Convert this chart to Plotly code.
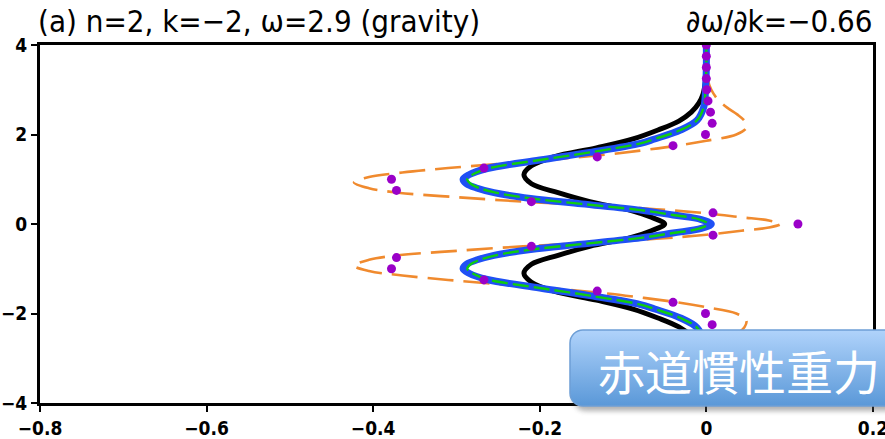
import base64
import plotly.graph_objects as go

# ---------------- data ----------------
y_black = [-4.0, -3.5, -3.2, -2.9, -2.7, -2.5, -2.3, -2.1, -1.9, -1.7, -1.5, -1.3, -1.1, -0.9, -0.7, -0.5, -0.3, -0.15,
           0.0, 0.15, 0.3, 0.5, 0.7, 0.9, 1.1, 1.3, 1.5, 1.7, 1.9, 2.1, 2.3, 2.5, 2.7, 2.9, 3.2, 3.5, 4.0]
x_black = [0.0, 0.0, -0.001, -0.004, -0.009, -0.018, -0.033, -0.058, -0.088, -0.132, -0.183, -0.21, -0.219, -0.21, -0.178, -0.14, -0.09, -0.066,
           -0.05, -0.066, -0.09, -0.14, -0.178, -0.21, -0.219, -0.21, -0.183, -0.132, -0.088, -0.058, -0.033, -0.018, -0.009, -0.004, -0.001, 0.0, 0.0]

y_blue = [-4.0, -3.5, -3.0, -2.62, -2.32, -2.1, -1.9, -1.8, -1.6, -1.43, -1.24, -1.1, -1.0, -0.9, -0.8, -0.7, -0.57, -0.45, -0.31, -0.2, -0.1,
          0.0, 0.1, 0.2, 0.31, 0.45, 0.57, 0.7, 0.8, 0.9, 1.0, 1.1, 1.24, 1.43, 1.6, 1.8, 1.9, 2.1, 2.32, 2.62, 3.0, 3.5, 4.0]
x_blue = [0.0, 0.0, -0.001, -0.003, -0.011, -0.031, -0.062, -0.079, -0.14, -0.2, -0.263, -0.285, -0.292, -0.288, -0.275, -0.255, -0.211, -0.15, -0.079, -0.04, -0.006,
          0.006, -0.006, -0.04, -0.079, -0.15, -0.211, -0.255, -0.275, -0.288, -0.292, -0.285, -0.263, -0.2, -0.14, -0.079, -0.062, -0.031, -0.011, -0.003, -0.001, 0.0, 0.0]

y_green = [-4.0, -3.5, -3.0, -2.62, -2.32, -2.1, -1.9, -1.8, -1.6, -1.43, -1.24, -1.1, -1.0, -0.9, -0.8, -0.7, -0.57, -0.45, -0.31, -0.2, -0.1,
           0.0, 0.1, 0.2, 0.31, 0.45, 0.57, 0.7, 0.8, 0.9, 1.0, 1.1, 1.24, 1.43, 1.6, 1.8, 1.9, 2.1, 2.32, 2.62, 3.0, 3.5, 4.0]
x_green = [0.0, 0.0, -0.001, -0.003, -0.011, -0.031, -0.062, -0.079, -0.14, -0.2, -0.262, -0.281, -0.287, -0.283, -0.272, -0.253, -0.21, -0.15, -0.079, -0.04, -0.008,
           0.002, -0.008, -0.04, -0.079, -0.15, -0.21, -0.253, -0.272, -0.283, -0.287, -0.281, -0.262, -0.2, -0.14, -0.079, -0.062, -0.031, -0.011, -0.003, -0.001, 0.0, 0.0]

y_orange = [-4.0, -3.5, -3.2, -3.0, -2.8, -2.6, -2.45, -2.3, -2.15, -2.0, -1.86, -1.75, -1.65, -1.55, -1.45, -1.35, -1.25, -1.15, -1.05, -0.93,
            -0.8, -0.7, -0.6, -0.5, -0.42, -0.33, -0.24, -0.15, -0.08,
            0.0, 0.08, 0.15, 0.24, 0.33, 0.42, 0.5, 0.6, 0.7, 0.8, 0.93, 1.05, 1.15, 1.25, 1.35, 1.45, 1.55, 1.65, 1.75, 1.86, 2.0, 2.15, 2.3, 2.45, 2.6, 2.8, 3.0, 3.2, 3.5, 4.0]
x_orange = [0.0, 0.0, 0.002, 0.006, 0.013, 0.025, 0.037, 0.046, 0.048, 0.036, 0.0, -0.035, -0.075, -0.12, -0.18, -0.245, -0.31, -0.365, -0.405, -0.423,
            -0.405, -0.37, -0.3, -0.22, -0.14, -0.06, 0.0, 0.042, 0.075,
            0.089, 0.075, 0.042, 0.0, -0.06, -0.14, -0.22, -0.3, -0.37, -0.405, -0.423, -0.405, -0.365, -0.31, -0.245, -0.18, -0.12, -0.075, -0.035, 0.0, 0.036, 0.048, 0.046, 0.037, 0.025, 0.013, 0.006, 0.002, 0.0, 0.0]

y_dots = [-4.0, -3.75, -3.5, -3.25, -3.0, -2.75, -2.5, -2.25, -2.0, -1.75, -1.5, -1.25, -1.0, -0.75, -0.5, -0.25,
          0.0, 0.25, 0.5, 0.75, 1.0, 1.25, 1.5, 1.75, 2.0, 2.25, 2.5, 2.75, 3.0, 3.25, 3.5, 3.75, 4.0]
x_dots = [0.0, 0.0, 0.0, 0.0, 0.0005, 0.002, 0.005, 0.007, -0.001, -0.04, -0.131, -0.267, -0.378, -0.372, -0.21, 0.008,
          0.11, 0.008, -0.21, -0.372, -0.378, -0.267, -0.131, -0.04, -0.001, 0.007, 0.005, 0.002, 0.0005, 0.0, 0.0, 0.0, 0.0]

x_tickvals = [-0.8, -0.6, -0.4, -0.2, 0.0, 0.2]
x_ticktext = ["\u22120.8", "\u22120.6", "\u22120.4", "\u22120.2", "0", "0.2"]
y_tickvals = [-4, -2, 0, 2, 4]
y_ticktext = ["\u22124", "\u22122", "0", "2", "4"]

title_left = "(a) n=2, k=\u22122, \u03c9=2.9 (gravity)"
title_right = "\u2202\u03c9/\u2202k=\u22120.66"
badge_text = "赤道慣性重力"

# ---------------- figure ----------------
FONT = "Liberation Sans Narrow, DejaVu Sans Condensed, Lato, sans-serif"

fig = go.Figure()
fig.add_trace(go.Scatter(x=x_black, y=y_black, mode="lines", line=dict(color="black", width=5, shape="spline"),
                         hoverinfo="skip"))
fig.add_trace(go.Scatter(x=x_orange, y=y_orange, mode="lines",
                         line=dict(color="#f08a2e", width=2.6, shape="spline", dash="26px,10px"), hoverinfo="skip"))
fig.add_trace(go.Scatter(x=x_blue, y=y_blue, mode="lines", line=dict(color="#1f50f5", width=7, shape="spline"),
                         hoverinfo="skip"))
fig.add_trace(go.Scatter(x=x_green, y=y_green, mode="lines",
                         line=dict(color="#10cc10", width=2.4, shape="spline", dash="16px,5px"), hoverinfo="skip"))
fig.add_trace(go.Scatter(x=x_dots, y=y_dots, mode="markers", marker=dict(color="#9a00c8", size=9),
                         hoverinfo="skip"))

L, R, T, B = 40, 12, 45, 36
W, H = 885, 439
pw, ph = W - L - R, H - T - B

axis_common = dict(showgrid=False, zeroline=False, showline=True, linecolor="black", linewidth=3, mirror=True,
                   ticks="outside", ticklen=6, tickwidth=2, tickcolor="black", automargin=False,
                   ticklabeloverflow="allow",
                   tickfont=dict(family=FONT, size=19, color="black", weight="bold"))
fig.update_xaxes(range=[-0.8, 0.2001], tickvals=x_tickvals, ticktext=x_ticktext, **axis_common)
fig.update_yaxes(range=[-4.0001, 4.0001], tickvals=y_tickvals, ticktext=y_ticktext, **axis_common)

# badge background (gradient rounded box) as an svg image
svg = ("<svg xmlns='http://www.w3.org/2000/svg' width='340' height='90' viewBox='0 0 340 90'>"
       "<defs><linearGradient id='g' x1='0' y1='0' x2='0' y2='1'>"
       "<stop offset='0' stop-color='#b0d3fb'/><stop offset='1' stop-color='#5a98d8'/></linearGradient>"
       "<filter id='s' x='-10%' y='-10%' width='120%' height='140%'><feGaussianBlur stdDeviation='2.5'/></filter></defs>"
       "<rect x='4' y='6' width='336' height='76' rx='13' fill='#555' opacity='0.45' filter='url(#s)'/>"
       "<rect x='1' y='1' width='336' height='76' rx='13' fill='url(#g)' stroke='#6e9fd6' stroke-width='1.5'/>"
       "</svg>")
src = "data:image/svg+xml;base64," + base64.b64encode(svg.encode()).decode()
bx, by, bw, bh = 569, 329, 340, 90
fig.add_layout_image(dict(source=src, xref="paper", yref="paper",
                          x=(bx - L) / pw, y=(H - B - by) / ph, sizex=bw / pw, sizey=bh / ph,
                          xanchor="left", yanchor="top", sizing="stretch", layer="above"))

fig.add_annotation(text=badge_text, xref="paper", yref="paper", x=(739 - L) / pw, y=(H - B - 369) / ph,
                   xanchor="center", yanchor="middle", showarrow=False,
                   font=dict(family="Noto Sans CJK JP", size=47, color="white"))

fig.add_annotation(text=title_left, xref="paper", yref="paper", x=0, y=(H - B - 21) / ph,
                   xanchor="left", yanchor="middle", xshift=-4, showarrow=False,
                   font=dict(family=FONT, size=31, color="black"))
fig.add_annotation(text=title_right, xref="paper", yref="paper", x=1, y=(H - B - 21) / ph,
                   xanchor="right", yanchor="middle", xshift=2, showarrow=False,
                   font=dict(family=FONT, size=31, color="black"))

fig.update_layout(width=W, height=H, margin=dict(l=L, r=R, t=T, b=B), plot_bgcolor="white",
                  paper_bgcolor="white", showlegend=False)

fig.write_html("out.html", config={"displayModeBar": False},
               post_script="document.body.style.margin='0';document.body.style.overflow='hidden';")
